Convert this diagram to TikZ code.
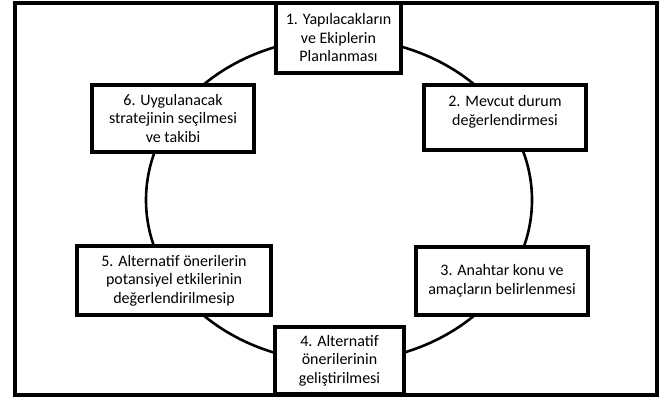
\documentclass[tikz,border=0pt]{standalone}
\usepackage{fontspec}
\setmainfont{Carlito}
\usetikzlibrary{positioning}

\begin{document}
\begin{tikzpicture}[x=1pt, y=-1pt,
  stepbox/.style={draw, line width=4pt, fill=white, align=center, inner sep=2pt,
    font=\fontsize{16}{18.5}\selectfont},
  cycle/.style={line width=2.6pt}]
  \useasboundingbox (0,0) rectangle (671,401);
  \coordinate (center) at (339,200);
  \coordinate (1) at (338.5,38);
  \coordinate (2) at (505,117.5);
  \coordinate (3) at (502,281);
  \coordinate (4) at (339.5,360.5);
  \coordinate (5) at (174,280.5);
  \coordinate (6) at (173,118.5);
  \draw[line width=4pt] (14.7,3) rectangle (656.5,394.5);
  \draw[cycle] (center) ellipse [x radius=193, y radius=162];
  \node[stepbox, minimum width=125pt, minimum height=70pt] (n1) at (1) {1. Yapılacakların\\ve Ekiplerin\\Planlanması};
  \node[stepbox, minimum width=162pt, minimum height=65pt, text depth=14pt] (n2) at (2) {2. Mevcut durum\\değerlendirmesi};
  \node[stepbox, minimum width=172pt, minimum height=68pt] (n3) at (3) {3. Anahtar konu ve\\amaçların belirlenmesi};
  \node[stepbox, minimum width=129pt, minimum height=67pt] (n4) at (4) {4. Alternatif\\önerilerinin\\geliştirilmesi};
  \node[stepbox, minimum width=194pt, minimum height=69pt] (n5) at (5) {5. Alternatif önerilerin\\potansiyel etkilerinin\\değerlendirilmesip};
  \node[stepbox, minimum width=162pt, minimum height=67pt] (n6) at (6) {6. Uygulanacak\\stratejinin seçilmesi\\ve takibi};
\end{tikzpicture}
\end{document}
